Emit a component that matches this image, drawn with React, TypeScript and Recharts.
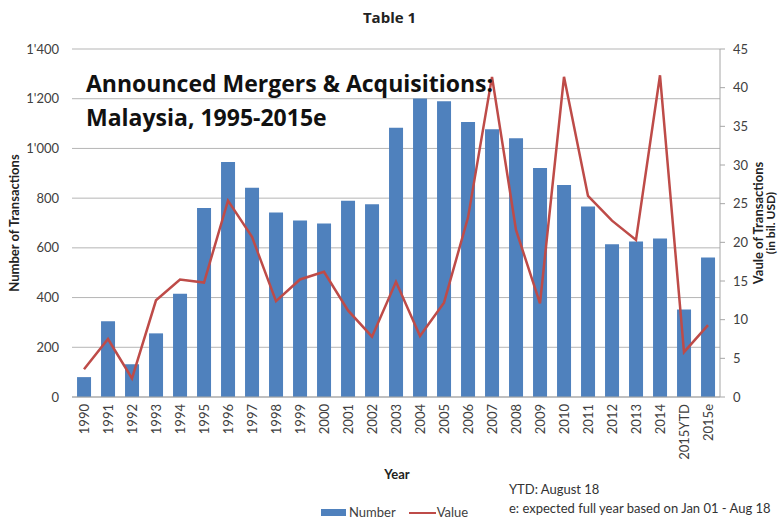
import React from 'react';
import { ComposedChart, Bar, Line, XAxis, YAxis, CartesianGrid } from 'recharts';

const years = [
  '1990', '1991', '1992', '1993', '1994', '1995', '1996', '1997', '1998', '1999',
  '2000', '2001', '2002', '2003', '2004', '2005', '2006', '2007', '2008', '2009',
  '2010', '2011', '2012', '2013', '2014', '2015YTD', '2015e',
];

// number of announced deals (left axis)
const dealCounts = [
  80, 305, 132, 256, 415, 760, 945, 842, 742, 710,
  698, 790, 775, 1083, 1201, 1190, 1106, 1077, 1041, 921,
  853, 766, 615, 626, 638, 352, 561,
];

// deal value in bil. USD (right axis)
const dealValues = [
  3.6, 7.5, 2.4, 12.5, 15.2, 14.8, 25.4, 20.7, 12.4, 15.2,
  16.2, 11.2, 7.8, 14.9, 7.9, 12.2, 23.2, 41.4, 21.6, 12.1,
  41.4, 26.0, 22.8, 20.3, 41.6, 5.8, 9.3,
];

const countTicks = [0, 200, 400, 600, 800, 1000, 1200, 1400];
const valueTicks = [0, 5, 10, 15, 20, 25, 30, 35, 40, 45];

const data = years.map((year, i) => ({
  year,
  number: dealCounts[i],
  value: dealValues[i],
}));

const FONT = 'Lato, "Open Sans", sans-serif';
const TITLE_FONT = '"Open Sans", sans-serif';
const BLUE = '#4F81BD';
const RED = '#BE4B48';

const fmtCount = (v: number) =>
  v >= 1000 ? `${Math.floor(v / 1000)}'${String(v % 1000).padStart(3, '0')}` : String(v);

const YearTick = (props: any) => {
  const { x, y, payload } = props;
  return (
    <text
      x={x}
      y={y}
      transform={`rotate(-90 ${x} ${y})`}
      textAnchor="end"
      dominantBaseline="central"
      fill="#404040"
      fontSize={13}
      fontFamily={FONT}
    >
      {payload.value}
    </text>
  );
};

const abs = (extra: React.CSSProperties): React.CSSProperties => ({
  position: 'absolute',
  fontFamily: FONT,
  whiteSpace: 'nowrap',
  lineHeight: 1,
  ...extra,
});

export default function App() {
  return (
    <div style={{ position: 'absolute', left: 0, top: 0, width: 779, height: 521, background: '#fff', overflow: 'hidden' }}>
      <ComposedChart
        width={779}
        height={521}
        data={data}
        margin={{ top: 49, right: 0, bottom: 0, left: 0 }}
        barCategoryGap="21%"
      >
        <CartesianGrid yAxisId="left" vertical={false} stroke="#b5b5b5" />
        <XAxis
          dataKey="year"
          height={124}
          interval={0}
          tickLine={false}
          tickSize={0}
          tickMargin={7}
          axisLine={{ stroke: '#a6a6a6' }}
          tick={<YearTick />}
        />
        <YAxis
          yAxisId="left"
          width={72}
          domain={[0, 1400]}
          ticks={countTicks}
          tickFormatter={fmtCount}
          axisLine={false}
          tickLine={false}
          tickSize={0}
          tickMargin={13}
          tick={{ fill: '#404040', fontSize: 13, fontFamily: FONT }}
        />
        <YAxis
          yAxisId="right"
          orientation="right"
          width={59}
          domain={[0, 45]}
          ticks={valueTicks}
          axisLine={{ stroke: '#a6a6a6' }}
          tickLine={{ stroke: '#a6a6a6' }}
          tickSize={5}
          tickMargin={8}
          tick={{ fill: '#404040', fontSize: 13, fontFamily: FONT }}
        />
        <Bar yAxisId="left" dataKey="number" fill={BLUE} isAnimationActive={false} />
        <Line
          yAxisId="right"
          type="linear"
          dataKey="value"
          stroke={RED}
          strokeWidth={2.5}
          dot={false}
          isAnimationActive={false}
        />
      </ComposedChart>

      <div style={abs({ left: 0, width: 779, top: 10, textAlign: 'center', fontFamily: TITLE_FONT, fontWeight: 700, fontSize: 15, color: '#222' })}>
        Table 1
      </div>

      <div style={abs({ left: 86, top: 72, fontFamily: TITLE_FONT, fontWeight: 700, fontSize: 23, color: '#111' })}>
        Announced Mergers &amp; Acquisitions:
      </div>
      <div style={abs({ left: 86, top: 106, fontFamily: TITLE_FONT, fontWeight: 700, fontSize: 23, color: '#111' })}>
        Malaysia, 1995-2015e
      </div>

      <div
        style={abs({
          left: 14, top: 223, fontWeight: 700, fontSize: 13, color: '#222',
          transform: 'translate(-50%, -50%) rotate(-90deg)',
        })}
      >
        Number of Transactions
      </div>

      <div
        style={abs({
          left: 758, top: 223, fontWeight: 700, fontSize: 13, color: '#222',
          transform: 'translate(-50%, -50%) rotate(-90deg)',
        })}
      >
        Vaule of Transactions
      </div>
      <div
        style={abs({
          left: 771, top: 223, fontWeight: 700, fontSize: 12, color: '#222',
          transform: 'translate(-50%, -50%) rotate(-90deg)',
        })}
      >
        (in bil. USD)
      </div>

      <div style={abs({ left: 397, top: 474, fontWeight: 700, fontSize: 13, color: '#222', transform: 'translate(-50%, -50%)' })}>
        Year
      </div>

      <div style={abs({ left: 321, top: 506, display: 'flex', alignItems: 'center', fontSize: 13, color: '#404040' })}>
        <span style={{ display: 'inline-block', width: 25, height: 7, background: BLUE, marginRight: 3 }} />
        <span>Number</span>
        <span style={{ display: 'inline-block', width: 27, height: 2, background: RED, marginLeft: 13, marginRight: 1 }} />
        <span>Value</span>
      </div>

      <div style={abs({ left: 509, top: 483, fontSize: 13, color: '#333' })}>YTD: August 18</div>
      <div style={abs({ left: 509, top: 502, fontSize: 13, color: '#333' })}>
        e: expected full year based on Jan 01 - Aug 18
      </div>
    </div>
  );
}
